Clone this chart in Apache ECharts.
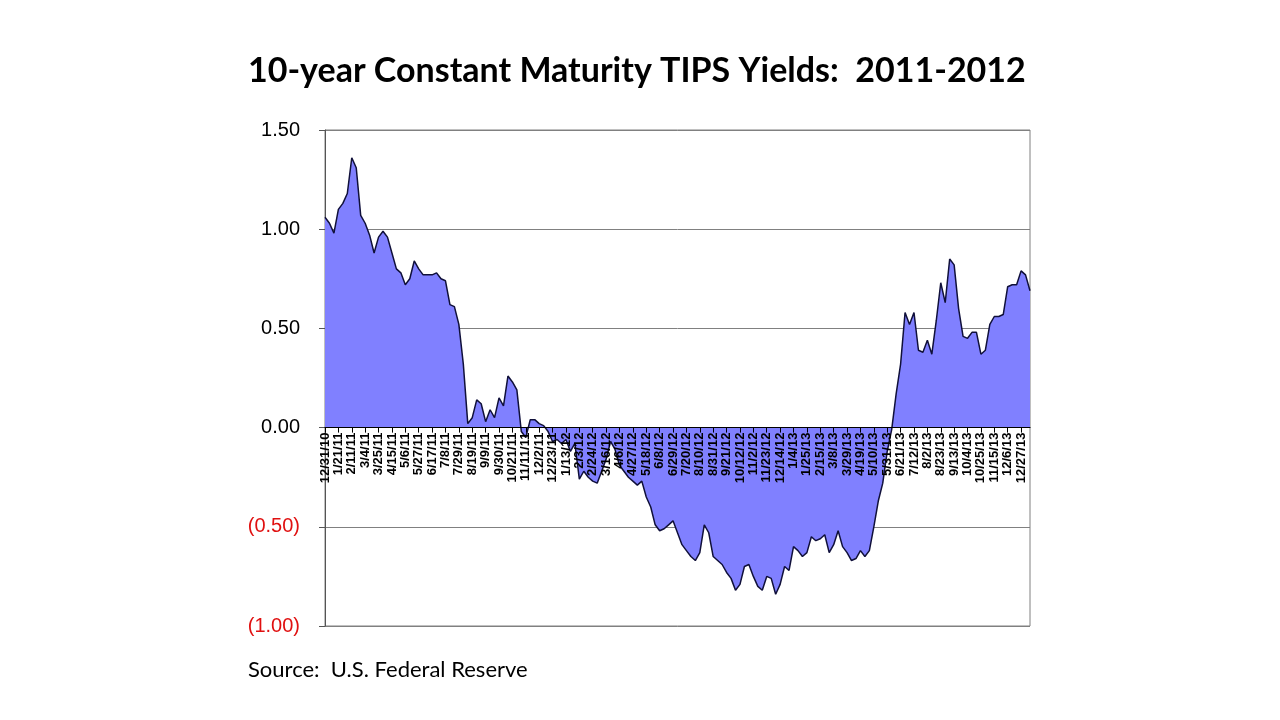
<!DOCTYPE html>
<html>
<head>
<meta charset="utf-8">
<script src="https://cdn.jsdelivr.net/npm/echarts@6/dist/echarts.min.js"></script>
<style>
html,body{margin:0;padding:0;background:#fff;}
#chart{width:1280px;height:720px;}
</style>
</head>
<body>
<div id="chart"></div>
<script>
// Weekly observations, first week ending 12/31/10
var startDate = [2010, 11, 31];
var weekCount = 159;

var yields = [
  1.06, 1.03, 0.98, 1.10, 1.13, 1.18, 1.36, 1.31, 1.07, 1.03,
  0.97, 0.88, 0.96, 0.99, 0.96, 0.88, 0.80, 0.78, 0.72, 0.75,
  0.84, 0.80, 0.77, 0.77, 0.77, 0.78, 0.75, 0.74, 0.62, 0.61,
  0.52, 0.32, 0.02, 0.05, 0.14, 0.12, 0.03, 0.09, 0.05, 0.15,
  0.11, 0.26, 0.23, 0.19, -0.02, -0.05, 0.04, 0.04, 0.02, 0.01,
  -0.02, -0.07, -0.06, -0.08, -0.06, -0.12, -0.08, -0.26, -0.22, -0.25,
  -0.27, -0.28, -0.22, -0.16, -0.07, -0.11, -0.19, -0.22, -0.25, -0.27,
  -0.29, -0.27, -0.35, -0.40, -0.49, -0.52, -0.51, -0.49, -0.47, -0.53,
  -0.59, -0.62, -0.65, -0.67, -0.63, -0.49, -0.53, -0.65, -0.67, -0.69,
  -0.73, -0.76, -0.82, -0.79, -0.70, -0.69, -0.75, -0.80, -0.82, -0.75,
  -0.76, -0.84, -0.79, -0.70, -0.72, -0.60, -0.62, -0.65, -0.63, -0.55,
  -0.57, -0.56, -0.54, -0.63, -0.59, -0.52, -0.60, -0.63, -0.67, -0.66,
  -0.62, -0.65, -0.62, -0.50, -0.37, -0.28, -0.12, -0.01, 0.17, 0.32,
  0.58, 0.52, 0.58, 0.39, 0.38, 0.44, 0.37, 0.54, 0.73, 0.63,
  0.85, 0.82, 0.60, 0.46, 0.45, 0.48, 0.48, 0.37, 0.39, 0.52,
  0.56, 0.56, 0.57, 0.71, 0.72, 0.72, 0.79, 0.77, 0.69
];

var yTicks = [-1.0, -0.5, 0.0, 0.5, 1.0, 1.5];
var titleText = '10-year Constant Maturity TIPS Yields:  2011-2012';
var sourceText = 'Source:  U.S. Federal Reserve';

var categories = [];
for (var i = 0; i < weekCount; i++) {
  var d = new Date(Date.UTC(startDate[0], startDate[1], startDate[2] + 7 * i));
  categories.push((d.getUTCMonth() + 1) + '/' + d.getUTCDate() + '/' + String(d.getUTCFullYear()).slice(2));
}

var gridTop = 130, gridBottom = 94, chartH = 720;
var plotH = chartH - gridTop - gridBottom;
var yMin = yTicks[0], yMax = yTicks[yTicks.length - 1];
// move the category axis (line, ticks, labels) up to the zero line
var zeroOffset = -plotH * (0 - yMin) / (yMax - yMin);

var chart = echarts.init(document.getElementById('chart'));
chart.setOption({
  animation: false,
  backgroundColor: '#ffffff',
  graphic: [
    {
      type: 'text', left: 248, top: 54,
      style: { text: titleText, font: 'bold 34px Lato', fill: '#000' }
    },
    {
      type: 'text', left: 248, top: 659,
      style: { text: sourceText, font: '22px Lato', fill: '#000' }
    }
  ],
  grid: {
    left: 325, right: 250, top: gridTop, bottom: gridBottom,
    show: true, borderColor: '#808080', borderWidth: 1, backgroundColor: 'transparent'
  },
  xAxis: {
    type: 'category',
    data: categories,
    boundaryGap: false,
    position: 'bottom',
    offset: zeroOffset,
    z: 10,
    axisLine: { onZero: false, lineStyle: { color: '#000', width: 1.2 } },
    axisTick: { show: true, interval: 2, length: 5, lineStyle: { color: '#000' } },
    axisLabel: {
      interval: 2, rotate: 90, margin: 5,
      fontFamily: 'Liberation Sans', fontWeight: 'bold', fontSize: 13, color: '#000'
    },
    splitLine: { show: false }
  },
  yAxis: {
    type: 'value',
    min: yMin, max: yMax, interval: 0.5,
    axisLine: { show: true, lineStyle: { color: '#555' } },
    axisTick: { show: true, length: 6, lineStyle: { color: '#555' } },
    splitLine: { show: true, lineStyle: { color: '#808080', width: 1 } },
    axisLabel: {
      margin: 25, fontFamily: 'Liberation Sans', fontSize: 20, color: '#000',
      formatter: function (v) {
        if (v < 0) return '{neg|(' + Math.abs(v).toFixed(2) + ')}';
        return v.toFixed(2);
      },
      rich: { neg: { color: '#e01010', fontFamily: 'Liberation Sans', fontSize: 20 } }
    }
  },
  series: [{
    type: 'line',
    data: yields,
    symbol: 'none',
    lineStyle: { color: '#10103a', width: 1.5 },
    areaStyle: { color: '#8080ff', opacity: 1 },
    z: 1
  }]
});
</script>
</body>
</html>
